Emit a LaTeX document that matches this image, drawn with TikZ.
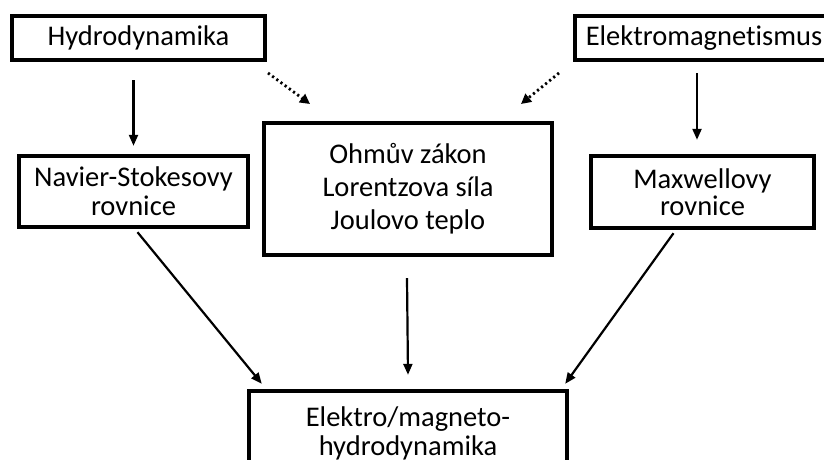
\documentclass[tikz,border=0pt]{standalone}
\usepackage{fontspec}
\setmainfont{Carlito}[Ligatures={NoCommon}]
\usetikzlibrary{arrows.meta,calc}
\begin{document}
\begin{tikzpicture}[x=1pt,y=-1pt,
  box/.style={draw, line width=4.4pt, inner sep=0pt, align=center,
    font=\fontsize{28.5}{29}\selectfont},
  arr/.style={line width=2.2pt, -{Triangle[length=11pt,width=9pt]}},
  dotarr/.style={line width=2.8pt, dash pattern=on 2.2pt off 3pt, -{Triangle[length=10pt,width=10pt]}}]
\useasboundingbox (0,0) rectangle (824,460);
\fill[white] (0,0) rectangle (824,460);
\node[box, minimum width=253pt, minimum height=44pt] (hydro) at (138.5,38) {Hydrodynamika};
\node[box, minimum width=258pt, minimum height=44pt] (elektro) at (704,38) {Elektromagnetismus};
\node[box, minimum width=229pt, minimum height=71pt] (navier) at (133.5,191.5) {Navier-Stokesovy\\rovnice};
\node[box, minimum width=288pt, minimum height=132pt, font=\fontsize{28.5}{33}\selectfont] (ohm) at (408,189) {Ohmův zákon\\Lorentzova síla\\Joulovo teplo};
\node[box, minimum width=223pt, minimum height=72pt, font=\fontsize{28.5}{27}\selectfont] (maxwell) at (702.5,192) {Maxwellovy\\rovnice};
\node[box, minimum width=318pt, minimum height=84pt, font=\fontsize{28.5}{29}\selectfont] (mhd) at (408,433) {Elektro/magneto-\\hydrodynamika};
% arrows
\draw[arr] (navier.north |- hydro.south) ++(0,18) coordinate (h1) -- ($(navier.north)+(0,-8)$) coordinate (h2);
\draw[arr] ($(maxwell.north |- elektro.south)+(-5.5,11)$) coordinate (e1) -- ($(maxwell.north)+(-5.5,-14)$) coordinate (e2);
\coordinate (d1s) at (268,73);
\coordinate (d1e) at (310,104);
\coordinate (d2s) at (559,73);
\coordinate (d2e) at (521,104);
\draw[dotarr] (d1s) -- (d1e);
\draw[dotarr] (d2s) -- (d2e);
\draw[arr] ($(navier.south)+(4,3)$) -- ($(mhd.north west)+(15,-5)$);
\draw[arr] ($(ohm.south)+(-1,21)$) -- ($(mhd.north)+(0,-14)$);
\draw[arr] ($(maxwell.south)+(-29,3)$) -- ($(mhd.north east)+(-4,-5)$);
\end{tikzpicture}
\end{document}
